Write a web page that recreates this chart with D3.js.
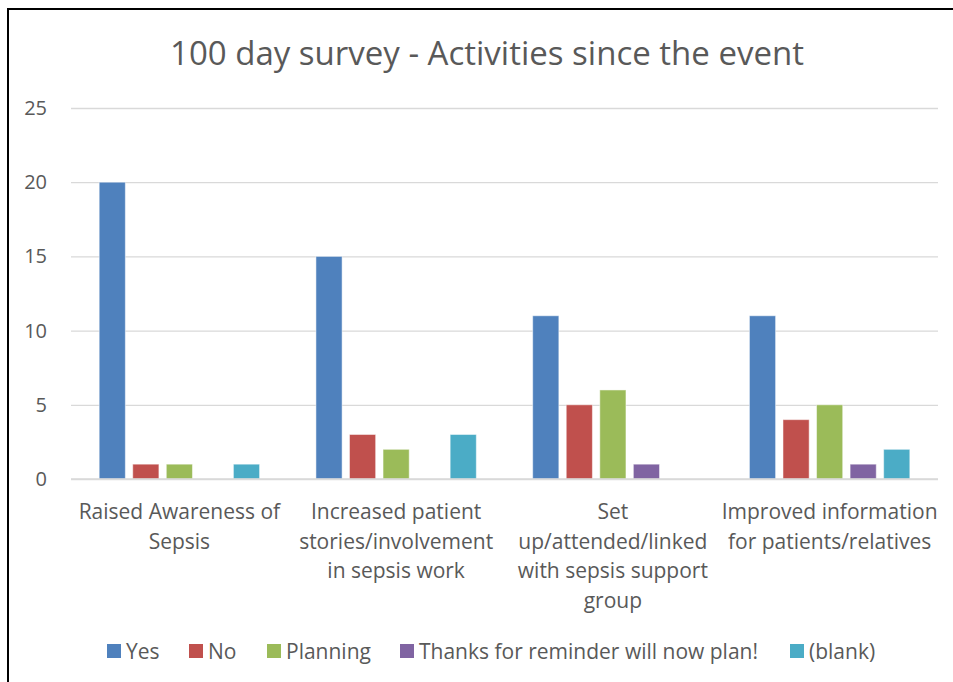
<!DOCTYPE html>
<html>
<head>
<meta charset="utf-8">
<script src="https://cdn.jsdelivr.net/npm/d3@7"></script>
<style>
  body { margin: 0; background: #fff; }
  svg { display: block; font-family: "Open Sans", sans-serif; font-variant-ligatures: none; }
</style>
</head>
<body>
<svg></svg>
<script>
var svg = d3.select("svg");
var svgWidth = 953, svgHeight = 682;
svg.attr("width", svgWidth).attr("height", svgHeight);

// data
var categories = ["Raised Awareness of Sepsis",
                  "Increased patient stories/involvement in sepsis work",
                  "Set up/attended/linked with sepsis support group",
                  "Improved information for patients/relatives"];
// how Excel wrapped each label
var categoryLines = [["Raised Awareness of", "Sepsis"],
                     ["Increased patient", "stories/involvement", "in sepsis work"],
                     ["Set", "up/attended/linked", "with sepsis support", "group"],
                     ["Improved information", "for patients/relatives"]];
var seriesNames = ["Yes", "No", "Planning", "Thanks for reminder will now plan!", "(blank)"];
var yes      = [20, 15, 11, 11];
var no       = [1, 3, 5, 4];
var planning = [1, 2, 6, 5];
var thanks   = [0, 0, 1, 1];
var blank    = [1, 3, 0, 2];
var yTicks   = [0, 5, 10, 15, 20, 25];

var colors = ["#4F81BD", "#C0504D", "#9BBB59", "#8064A2", "#4BACC6"];
var seriesValues = [yes, no, planning, thanks, blank];

var margin = {top: 108, left: 71, right: 15, bottom: 203};
var width = 938 - margin.left,
    height = 479 - margin.top;

// frame
svg.append("rect")
  .attr("x", 8).attr("y", 9)
  .attr("width", 1000).attr("height", 800)
  .attr("fill", "none").attr("stroke", "#000").attr("stroke-width", 2);

// title
var title = svg.append("text")
  .attr("x", 487).attr("y", 65)
  .attr("text-anchor", "middle")
  .style("font-size", "33px")
  .style("fill", "#595959")
  .text("100 day survey - Activities since the event");

var g = svg.append("g").attr("transform", "translate(" + margin.left + "," + margin.top + ")");

var x0 = d3.scaleBand().domain(categories).range([0, width]).padding(0);
var x1 = d3.scaleBand().domain(seriesNames)
  .range([x0.bandwidth() * 0.13, x0.bandwidth() * 0.87])
  .paddingInner(0.22).paddingOuter(0);
var yScale = d3.scaleLinear().domain([0, 25]).range([height, 0]);

// gridlines
var yAxis = d3.axisLeft(yScale).tickValues(yTicks).tickSize(-width).tickPadding(24);
var ax = g.append("g").call(yAxis);
ax.select(".domain").remove();
ax.selectAll(".tick line").attr("stroke", "#D9D9D9").attr("stroke-width", 1.3);
ax.selectAll(".tick text")
  .style("font-size", "20px").style("font-family", "'Open Sans', sans-serif")
  .attr("fill", "#595959");

// bars
var rows = [];
categories.forEach(function(c, i) {
  seriesNames.forEach(function(s, j) {
    rows.push({cat: c, series: s, value: seriesValues[j][i], color: colors[j]});
  });
});

g.selectAll("rect.bar")
  .data(rows.filter(function(d) { return d.value > 0; }))
  .enter().append("rect")
  .attr("class", "bar")
  .attr("x", function(d) { return x0(d.cat) + x1(d.series); })
  .attr("y", function(d) { return yScale(d.value); })
  .attr("width", x1.bandwidth())
  .attr("height", function(d) { return height - yScale(d.value); })
  .attr("fill", function(d) { return d.color; })
  .attr("stroke", "#fff").attr("stroke-opacity", 0.5).attr("stroke-width", 1);

// baseline
g.append("line")
  .attr("x1", 0).attr("x2", width)
  .attr("y1", yScale(0)).attr("y2", yScale(0))
  .attr("stroke", "#D9D9D9").attr("stroke-width", 1.5);

// category labels
categories.forEach(function(c, i) {
  var t = g.append("text")
    .attr("class", "cat")
    .attr("x", x0(c) + x0.bandwidth() / 2)
    .attr("y", height + 40)
    .attr("text-anchor", "middle")
    .style("font-size", "21px")
    .style("fill", "#595959");
  categoryLines[i].forEach(function(line, k) {
    t.append("tspan")
      .attr("x", x0(c) + x0.bandwidth() / 2)
      .attr("dy", k == 0 ? 0 : 29.5)
      .text(line);
  });
});

// legend
var legendX = [107, 189, 267, 400, 790];
var legend = svg.append("g");
seriesNames.forEach(function(s, i) {
  legend.append("rect")
    .attr("x", legendX[i]).attr("y", 644)
    .attr("width", 14).attr("height", 14)
    .attr("fill", colors[i]);
  legend.append("text")
    .attr("class", "leg")
    .attr("x", legendX[i] + 19).attr("y", 659)
    .style("font-size", "21px")
    .style("fill", "#595959")
    .text(s);
});
</script>
</body>
</html>
